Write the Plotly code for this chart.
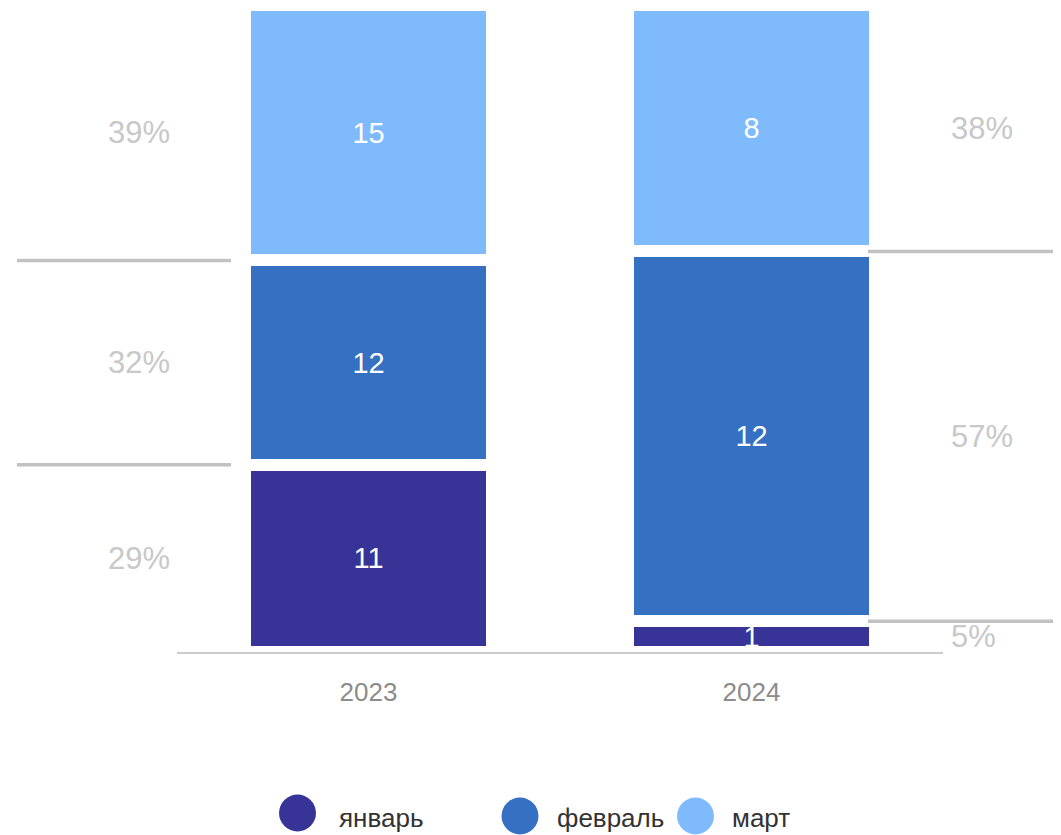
import plotly.graph_objects as go

# ---- data ----
categories = ["2023", "2024"]
series_names = ["январь", "февраль", "март"]
jan = [11, 1]
feb = [12, 12]
mar = [15, 8]
series_values = [jan, feb, mar]

# ---- style ----
colors = ["#383497", "#3670C2", "#7FBBFC"]
FONT = "Arial, Liberation Sans, sans-serif"
W, H = 1061, 835
OFF = 8                      # page body margin offset of the figure
PAGE_L, PAGE_R = 177, 943
PAGE_BOTTOM = 652
PX_PER_PCT = 6.47            # pixels per 1 %
PL = PAGE_L - OFF
PR = W - (PAGE_R - OFF)
PT = 0
PH = PAGE_BOTTOM - OFF - PT
PB = H - PT - PH
PW = PAGE_R - PAGE_L
YMAX = PH / PX_PER_PCT


def px2x(px):
    return (px - PAGE_L) / PW


def py2y(py):
    return (PAGE_BOTTOM - py) / PH


fig = go.Figure()
for name, vals, col in zip(series_names, series_values, colors):
    fig.add_trace(go.Bar(
        x=categories, y=vals, name=name,
        marker=dict(color=col, line=dict(color="white", width=12)),
        text=[str(v) for v in vals], texttemplate="%{text}",
        textposition="inside", insidetextanchor="middle",
        constraintext="none", textangle=0,
        textfont=dict(family=FONT, size=29, color="white"),
        showlegend=False, hoverinfo="skip",
    ))

totals = [sum(s[i] for s in series_values) for i in range(len(categories))]

shapes = []
annotations = []
for ci, cat in enumerate(categories):
    cum = 0.0
    left = ci == 0
    for si, vals in enumerate(series_values):
        pct = vals[ci] / totals[ci] * 100
        mid = cum + pct / 2
        annotations.append(dict(
            x=px2x(138.5) if left else px2x(949), xref="paper",
            y=mid, yref="y",
            xanchor="center" if left else "left", yanchor="middle",
            text=f"{round(pct)}%", showarrow=False,
            font=dict(family=FONT, size=31, color="#C8C8C8"),
        ))
        cum += pct
        if si < len(series_values) - 1:
            x0, x1 = (px2x(17), px2x(231)) if left else (px2x(868), px2x(1070))
            shapes.append(dict(
                type="line", xref="paper", yref="y",
                x0=x0, x1=x1, y0=cum, y1=cum,
                line=dict(color="#C2C2C2", width=3.5),
            ))

leg_cx = [297.5, 520, 695.5]
leg_cy = [813, 816, 816]
leg_tx = [336.7, 555, 730]
for name, col, cx, cy, tx in zip(series_names, colors, leg_cx, leg_cy, leg_tx):
    shapes.append(dict(
        type="circle", xref="paper", yref="paper",
        xsizemode="pixel", ysizemode="pixel",
        xanchor=px2x(cx), yanchor=py2y(cy),
        x0=-18.5, x1=18.5, y0=-18.5, y1=18.5,
        fillcolor=col, line=dict(width=0),
    ))
    annotations.append(dict(
        x=px2x(tx), y=py2y(818), xref="paper", yref="paper",
        xanchor="left", yanchor="middle", text=name, showarrow=False,
        font=dict(family=FONT, size=26, color="#333333"),
    ))

fig.update_layout(
    width=W, height=H,
    margin=dict(l=PL, r=PR, t=PT, b=PB, pad=0),
    barmode="stack", barnorm="percent", bargap=0.355,
    plot_bgcolor="white", paper_bgcolor="white",
    font=dict(family=FONT),
    shapes=shapes, annotations=annotations,
    showlegend=False,
)
fig.update_xaxes(
    type="category", showgrid=False, zeroline=False,
    showline=True, linecolor="#CCCCCC", linewidth=2,
    ticks="", ticklabelstandoff=16,
    tickfont=dict(family=FONT, size=26, color="#8C8C8C"),
)
fig.update_yaxes(visible=False, range=[0, YMAX], fixedrange=True)

fig.write_html("out.html")
